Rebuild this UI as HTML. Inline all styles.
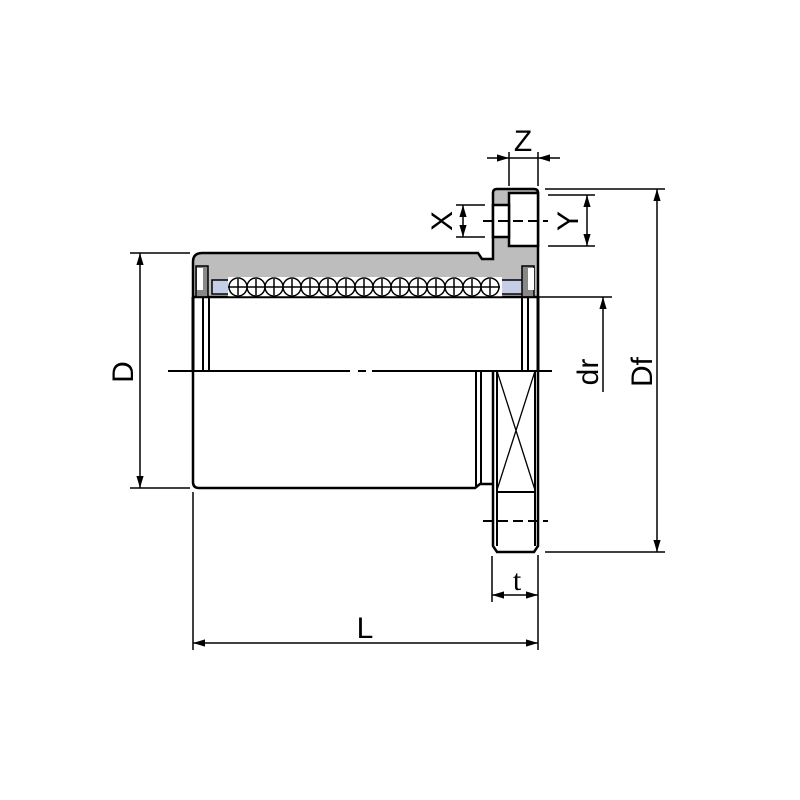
<!DOCTYPE html>
<html><head><style>body{margin:0;background:#fff}svg{display:block}text{font-family:"Liberation Sans",sans-serif;fill:#000}</style></head>
<body>
<svg width="800" height="800" viewBox="0 0 800 800" xmlns="http://www.w3.org/2000/svg">
<defs>
<marker id="a" viewBox="0 0 10 10" refX="10" refY="5" markerWidth="8" markerHeight="8" orient="auto-start-reverse"><path d="M0,2 L10,5 L0,8 z" fill="#000"/></marker>
</defs>
<g stroke="#000" fill="none">
<path d="M193,262 Q193,253 202,253 L478,253 L482,259 L493,259 L493,193 Q493,189 497,189 L534,189 Q538,189 538,193 L538,297 L193,297 z" fill="#bdbdbd" stroke-width="2.5"/>
<rect x="509" y="193" width="29" height="53" fill="#fff" stroke-width="2.5"/>
<rect x="493" y="205" width="16" height="32" fill="#fff" stroke-width="2.5"/>
<rect x="212" y="280" width="320" height="14" fill="#c6cde6" stroke-width="1.5"/>
<rect x="228" y="277" width="274" height="20" fill="#fff" stroke="none"/>
<g stroke-width="1.5">
<circle cx="238" cy="287" r="9"/><circle cx="256" cy="287" r="9"/><circle cx="274" cy="287" r="9"/><circle cx="292" cy="287" r="9"/><circle cx="310" cy="287" r="9"/><circle cx="328" cy="287" r="9"/><circle cx="346" cy="287" r="9"/><circle cx="364" cy="287" r="9"/><circle cx="382" cy="287" r="9"/><circle cx="400" cy="287" r="9"/><circle cx="418" cy="287" r="9"/><circle cx="436" cy="287" r="9"/><circle cx="454" cy="287" r="9"/><circle cx="472" cy="287" r="9"/><circle cx="490" cy="287" r="9"/>
<path d="M228,287 H500"/>
<path d="M238,279V295M256,279V295M274,279V295M292,279V295M310,279V295M328,279V295M346,279V295M364,279V295M382,279V295M400,279V295M418,279V295M436,279V295M454,279V295M472,279V295M490,279V295"/>
</g>
<rect x="196" y="266" width="12" height="31" fill="#888" stroke-width="1.5"/>
<rect x="197" y="268" width="6" height="22" fill="#fff" stroke="none"/>
<rect x="522" y="266" width="12" height="31" fill="#888" stroke-width="1.5"/>
<rect x="528" y="268" width="6" height="22" fill="#fff" stroke="none"/>
<path d="M193,297 V371 M538,297 V371" stroke-width="3"/>
<path d="M203,297 V371 M209,297 V371 M522,297 V371 M528,297 V371" stroke-width="2"/>
<path d="M193,297 H612" stroke-width="1.5"/>
<path d="M193,371 V482 Q193,488 199,488 L475,488 L480,484 L493,484" stroke-width="2.5"/>
<path d="M476,371 V486 M481,371 V484" stroke-width="2"/>
<path d="M493,371 V546 L497,552 L534,552 L538,546 V371" stroke-width="2.5"/>
<path d="M497,371 V546 M535,371 V546 M497,492 H535" stroke-width="2"/>
<path d="M497,371 L535,490 M535,371 L497,490" stroke-width="1.3"/>
<path d="M483,521 H548" stroke-width="2" stroke-dasharray="10,5"/>
<path d="M168,371 H350 M358,371 H366 M372,371 H552" stroke-width="2"/>
<path d="M483,221 H548" stroke-width="2" stroke-dasharray="10,5"/>
<path d="M130,253 H190 M130,488 H190" stroke-width="1.5"/>
<path d="M140,253 V488" stroke-width="1.5" marker-start="url(#a)" marker-end="url(#a)"/>
<path d="M603,297 V392" stroke-width="1.5" marker-start="url(#a)"/>
<path d="M545,189 H665 M545,552 H665" stroke-width="1.5"/>
<path d="M657,189 V552" stroke-width="1.5" marker-start="url(#a)" marker-end="url(#a)"/>
<path d="M193,492 V650 M538,555 V650" stroke-width="1.5"/>
<path d="M193,643 H538" stroke-width="1.5" marker-start="url(#a)" marker-end="url(#a)"/>
<path d="M492,556 V602" stroke-width="1.5"/>
<path d="M492,595 H538" stroke-width="1.5" marker-start="url(#a)" marker-end="url(#a)"/>
<path d="M509,152 V186 M538,152 V186" stroke-width="1.5"/>
<path d="M487,158 H509" stroke-width="1.5" marker-end="url(#a)"/>
<path d="M560,158 H538" stroke-width="1.5" marker-end="url(#a)"/>
<path d="M509,158 H538" stroke-width="1.5"/>
<path d="M456,205 H485 M456,237 H485" stroke-width="1.5"/>
<path d="M463,205 V237" stroke-width="1.5" marker-start="url(#a)" marker-end="url(#a)"/>
<path d="M548,195 H595 M548,246 H595" stroke-width="1.5"/>
<path d="M587,195 V246" stroke-width="1.5" marker-start="url(#a)" marker-end="url(#a)"/>
</g>
<g font-size="30">
<text x="365" y="638" text-anchor="middle">L</text>
<text x="517" y="590" text-anchor="middle" style="font-family:'Liberation Serif',serif">t</text>
<text x="523" y="151" text-anchor="middle">Z</text>
<text transform="translate(133,372) rotate(-90)" text-anchor="middle">D</text>
<text transform="translate(598,372) rotate(-90)" text-anchor="middle">dr</text>
<text transform="translate(652,372) rotate(-90)" text-anchor="middle">Df</text>
<text transform="translate(452,221) rotate(-90)" text-anchor="middle">X</text>
<text transform="translate(578,221) rotate(-90)" text-anchor="middle">Y</text>
</g>
</svg>
</body></html>
